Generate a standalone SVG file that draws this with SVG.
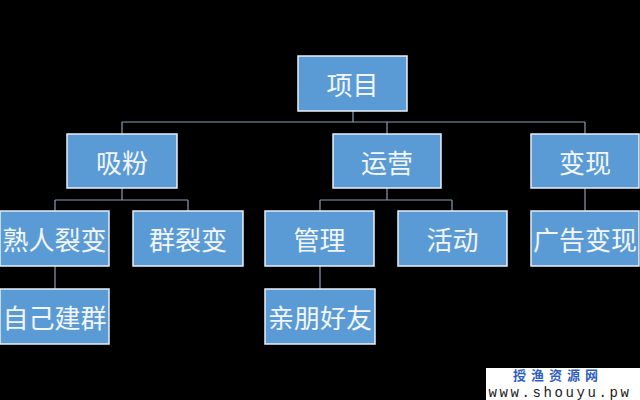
<svg xmlns="http://www.w3.org/2000/svg" width="640" height="400" viewBox="0 0 640 400">
<style>
.box{fill:#5B9BD5;stroke:#E8F0F8;stroke-width:1.5}
.t{font-family:"Noto Sans CJK SC","Noto Sans CJK JP",sans-serif;font-size:26px;fill:#F2F6FA;text-anchor:middle;dominant-baseline:central}
.c{fill:none;stroke:#8A9BB5;stroke-width:1.2}
</style>
<rect width="640" height="400" fill="#000"/>
<g id="connectors">
<path class="c" d="M353 111V122M122 122H585M122 122V134M387 122V134M585 122V134"/>
<path class="c" d="M122 188V200M55 200H188M55 200V211M188 200V211"/>
<path class="c" d="M387 188V200M320 200H452M320 200V211M452 200V211"/>
<path class="c" d="M585 188V211"/>
<path class="c" d="M55 266V289M320 266V289"/>
</g>
<g id="n-root"><rect class="box" x="298" y="56" width="109" height="55"/><text class="t" x="352.5" y="83.5">项目</text></g>
<g id="n-xifen"><rect class="box" x="67" y="134" width="110" height="54"/><text class="t" x="122" y="161">吸粉</text></g>
<g id="n-yunying"><rect class="box" x="333" y="134" width="108" height="54"/><text class="t" x="387" y="161">运营</text></g>
<g id="n-bianxian"><rect class="box" x="531" y="134" width="108" height="54"/><text class="t" x="585" y="161">变现</text></g>
<g id="n-shuren"><rect class="box" x="0" y="211" width="109" height="55"/><text class="t" x="54.5" y="238.5">熟人裂变</text></g>
<g id="n-qun"><rect class="box" x="133" y="211" width="110" height="55"/><text class="t" x="188" y="238.5">群裂变</text></g>
<g id="n-guanli"><rect class="box" x="265" y="211" width="109" height="55"/><text class="t" x="319.5" y="238.5">管理</text></g>
<g id="n-huodong"><rect class="box" x="398" y="211" width="109" height="55"/><text class="t" x="452.5" y="238.5">活动</text></g>
<g id="n-guanggao"><rect class="box" x="531" y="211" width="108" height="55"/><text class="t" x="585" y="238.5">广告变现</text></g>
<g id="n-ziji"><rect class="box" x="0" y="289" width="109" height="55"/><text class="t" x="54.5" y="316.5">自己建群</text></g>
<g id="n-qinpeng"><rect class="box" x="265" y="289" width="110" height="55"/><text class="t" x="320" y="316.5">亲朋好友</text></g>
<g id="watermark">
<rect x="486" y="368" width="154" height="32" fill="#fff"/>
<text x="558" y="380" font-family="'Noto Sans CJK SC',sans-serif" font-size="13" font-weight="bold" fill="#2E5FC0" text-anchor="middle" letter-spacing="5">授渔资源网</text>
<text x="560" y="397" font-family="'Liberation Mono',monospace" font-size="14" fill="#1a1a22" text-anchor="middle" letter-spacing="2.6">www.shouyu.pw</text>
</g>
</svg>
